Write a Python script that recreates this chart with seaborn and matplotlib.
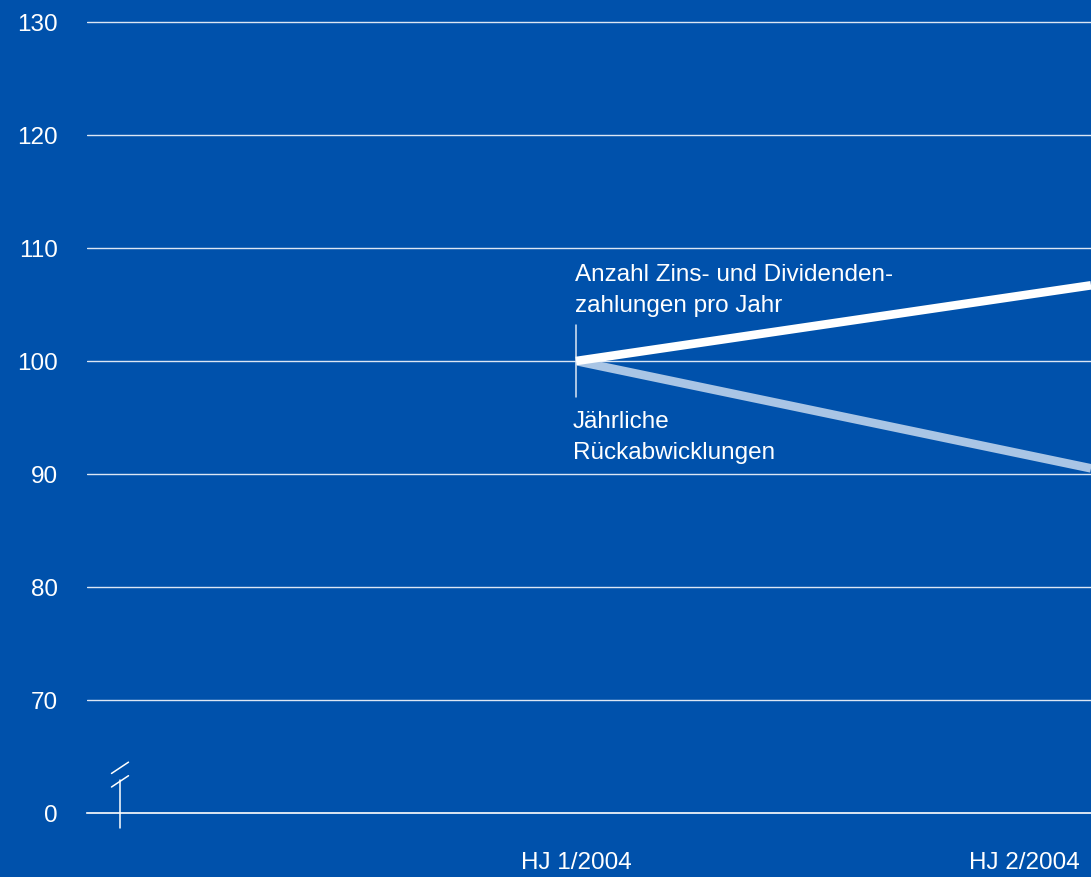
import matplotlib
matplotlib.use("Agg")
import matplotlib.pyplot as plt
from matplotlib.transforms import ScaledTranslation
import seaborn as sns
import pandas as pd

# Data
periods = ["HJ 1/2004", "HJ 2/2004"]
period_pos = [1, 2]
zahlungen = [100, 106.7]
rueckabwicklungen = [100, 90.5]
ytick_values = [60, 70, 80, 90, 100, 110, 120, 130]
ytick_labels = ["0", "70", "80", "90", "100", "110", "120", "130"]

BG = "#0051AB"
LIGHT = "#A9C5E5"
GRID = "#DCE6F4"
FS = 17.5

sns.set_theme(style="white")
plt.rcParams["font.family"] = ["Liberation Sans", "DejaVu Sans"]

df = pd.DataFrame({
    "pos": period_pos * 2,
    "wert": zahlungen + rueckabwicklungen,
    "serie": ["Zahlungen"] * 2 + ["Rückabwicklungen"] * 2,
})

fig = plt.figure(figsize=(10.91, 8.77), dpi=100)
fig.patch.set_facecolor(BG)
ax = fig.add_axes([87 / 1091, 64 / 877, 1 - 87 / 1091, 1 - 64 / 877])
ax.set_facecolor(BG)

sns.lineplot(data=df, x="pos", y="wert", hue="serie",
             palette={"Zahlungen": "white", "Rückabwicklungen": LIGHT},
             hue_order=["Rückabwicklungen", "Zahlungen"],
             linewidth=6.2, legend=False, ax=ax, zorder=3)
for ln in ax.lines:
    ln.set_solid_capstyle("butt")

ax.set_xlim(1 - 489 / 515, 2)
ax.set_ylim(60, 131.95)

# horizontal grid
for v in ytick_values[1:]:
    ax.axhline(v, color=GRID, lw=1.0, zorder=1)

for s in ["top", "right", "left"]:
    ax.spines[s].set_visible(False)
ax.spines["bottom"].set_color("white")
ax.spines["bottom"].set_linewidth(1.2)

ax.set_yticks(ytick_values)
ax.set_yticklabels(ytick_labels)
ax.tick_params(axis="y", length=0, pad=21, labelsize=FS, labelcolor="white")
ax.set_xticks(period_pos)
ax.set_xticklabels(periods)
ax.tick_params(axis="x", length=11, width=1, color=LIGHT, pad=17,
               labelsize=FS, labelcolor="white", direction="out")
last = ax.get_xticklabels()[1]
last.set_horizontalalignment("right")
last.set_transform(last.get_transform() + ScaledTranslation(-0.11, 0, fig.dpi_scale_trans))
ax.set_xlabel("")
ax.set_ylabel("")

# axis stub with break marks
x0 = 1 - 456 / 515
ax.plot([x0, x0], [58.7, 62.9], color="white", lw=1.1, clip_on=False, zorder=4)
dx = 8.5 / 515
ax.plot([x0 - dx, x0 + dx], [62.3, 63.3], color="white", lw=1.1, clip_on=False, zorder=4)
ax.plot([x0 - dx, x0 + dx], [63.5, 64.5], color="white", lw=1.1, clip_on=False, zorder=4)

# marker at the start period
ax.plot([1, 1], [96.8, 103.2], color=GRID, lw=1.1, zorder=2)

ax.text(1 - 1 / 515, 108.6, "Anzahl Zins- und Dividenden-\nzahlungen pro Jahr",
        color="white", fontsize=FS, ha="left", va="top", linespacing=1.55)
ax.text(1 - 3 / 515, 95.6, "Jährliche\nRückabwicklungen",
        color="white", fontsize=FS, ha="left", va="top", linespacing=1.55)

fig.savefig("out.png", dpi=100, facecolor=BG)
